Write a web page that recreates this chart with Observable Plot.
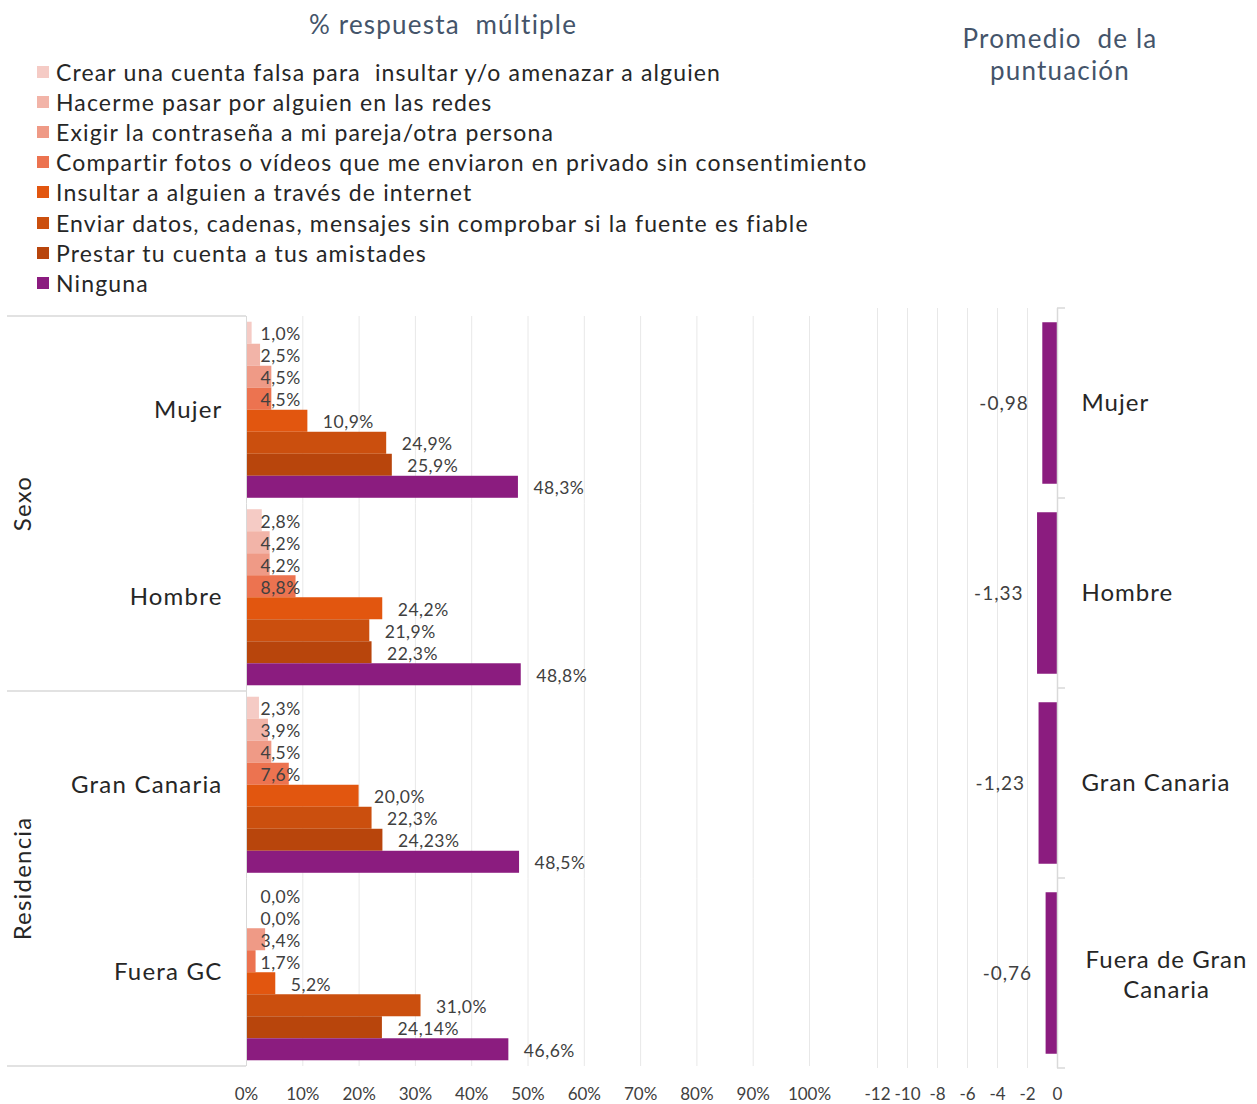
<!DOCTYPE html>
<html>
<head>
<meta charset="utf-8">
<script src="https://cdn.jsdelivr.net/npm/d3@7"></script>
<script src="https://cdn.jsdelivr.net/npm/@observablehq/plot@0.6"></script>
<style>
  body { margin: 0; background: #fff; font-family: Lato, "Open Sans", sans-serif; }
  #wrap { position: relative; width: 1257px; height: 1104px; overflow: hidden; }
  #wrap svg { position: absolute; top: 0; }
  .title { position: absolute; color: #44546A; font-size: 26px; letter-spacing: 1.2px; text-align: center; line-height: 32px; white-space: pre; }
  #legend { position: absolute; left: 37px; top: 57px; }
  .li { display: flex; align-items: center; height: 30.1px; font-size: 23px; letter-spacing: 1.15px; color: #262626; white-space: pre; }
  .sw { width: 12px; height: 12px; margin-right: 7px; flex: none; }
  .leftplot [aria-label^="fy-axis"] text { font-size: 24px; letter-spacing: 1.2px; fill: #262626; }
  .leftplot g[aria-label="text"] text { letter-spacing: 0.5px; }
  .rightplot g[aria-label="text"] text { letter-spacing: 1px; }
</style>
</head>
<body>
<div id="wrap">
  <div class="title" style="left:243px; top:8px; width:400px;">% respuesta  múltiple</div>
  <div class="title" style="left:910px; top:22px; width:300px;">Promedio  de la
puntuación</div>
  <div id="legend"></div>
</div>
<script>
// ---------- DATA ----------
const groups = ["Mujer", "Hombre", "Gran Canaria", "Fuera GC"];
const sectionLabels = ["Sexo", "Residencia"];
const items = [
  "Crear una cuenta falsa para  insultar y/o amenazar a alguien",
  "Hacerme pasar por alguien en las redes",
  "Exigir la contraseña a mi pareja/otra persona",
  "Compartir fotos o vídeos que me enviaron en privado sin consentimiento",
  "Insultar a alguien a través de internet",
  "Enviar datos, cadenas, mensajes sin comprobar si la fuente es fiable",
  "Prestar tu cuenta a tus amistades",
  "Ninguna"
];
const colors = ["#F5CBC5", "#F2B4A8", "#EF9A86", "#EC7350", "#E2560F", "#CB4F0E", "#B8450C", "#8B1C7F"];
const mujer  = [1.0, 2.5, 4.5, 4.5, 10.9, 24.9, 25.9, 48.3];
const hombre = [2.8, 4.2, 4.2, 8.8, 24.2, 21.9, 22.3, 48.8];
const granCanaria = [2.3, 3.9, 4.5, 7.6, 20.0, 22.3, 24.23, 48.5];
const fueraGC = [0.0, 0.0, 3.4, 1.7, 5.2, 31.0, 24.14, 46.6];
const pctTicks = [0, 10, 20, 30, 40, 50, 60, 70, 80, 90, 100];

const scoreGroups = ["Mujer", "Hombre", "Gran Canaria", "Fuera de Gran Canaria"];
const scores = [-0.98, -1.33, -1.23, -0.76];
const scoreTicks = [-12, -10, -8, -6, -4, -2, 0];

// ---------- helpers ----------
const seriesByGroup = [mujer, hombre, granCanaria, fueraGC];
const rows = [];
groups.forEach((g, gi) => seriesByGroup[gi].forEach((v, i) => rows.push({group: g, item: items[i], i, v})));
const fmtPct = v => {
  const oneDec = Math.abs(v * 10 - Math.round(v * 10)) < 1e-6;
  return (oneDec ? v.toFixed(1) : v.toFixed(2)).replace(".", ",") + "%";
};
const scoreRows = scoreGroups.map((g, i) => ({g, s: scores[i]}));

// ---------- legend ----------
const legend = document.getElementById("legend");
items.forEach((it, i) => {
  const d = document.createElement("div");
  d.className = "li";
  d.innerHTML = `<span class="sw" style="background:${colors[i]}"></span><span></span>`;
  d.lastChild.textContent = it;
  legend.appendChild(d);
});

const font = "Lato, 'Open Sans', sans-serif";

// ---------- left chart ----------
const left = Plot.plot({
  width: 860, height: 1104,
  marginTop: 316, marginBottom: 38, marginLeft: 246, marginRight: 51,
  style: {background: "transparent", fontFamily: font, fontSize: "17px", color: "#404040", overflow: "visible"},
  x: {domain: [0, 100], ticks: pctTicks, tickFormat: d => d + "%", tickSize: 0, tickPadding: 21, label: null},
  y: {domain: items, axis: null, paddingInner: 0, paddingOuter: 0.26, round: false},
  fy: {domain: groups, padding: 0, axis: "left", label: null, tickSize: 0, tickPadding: 24, round: false},
  color: {domain: items, range: colors},
  marks: [
    Plot.ruleX(pctTicks.slice(1), {stroke: "#E8E8E8"}),
    Plot.barX(rows, {x: "v", y: "item", fy: "group", fill: "item"}),
    Plot.ruleX([0], {stroke: "#D9D9D9"}),
    Plot.text(rows.filter(d => d.i < 4), {y: "item", fy: "group", frameAnchor: "left", dx: 14, dy: 1.5, textAnchor: "start", text: d => fmtPct(d.v), fontSize: 17.5, fill: "#404040"}),
    Plot.text(rows.filter(d => d.i >= 4), {x: "v", y: "item", fy: "group", dx: 15, dy: 1.5, textAnchor: "start", text: d => fmtPct(d.v), fontSize: 17.5, fill: "#404040"})
  ]
});
left.classList.add("leftplot");
left.style.left = "0px";
document.getElementById("wrap").appendChild(left);

// table-like outline and section labels, positioned from the fy scale
(function () {
  const fy = left.scale("fy");
  const svg = d3.select(left);
  const top = fy.apply(groups[0]);
  const mid = fy.apply(groups[2]);
  const bot = fy.apply(groups[3]) + fy.bandwidth;
  [top, mid, bot].forEach(y => {
    svg.append("line").attr("x1", 7).attr("x2", 246).attr("y1", y).attr("y2", y)
      .attr("stroke", "#D9D9D9").attr("stroke-width", 1.5);
  });
  const secY = [fy.apply(groups[1]), fy.apply(groups[3])];
  secY.forEach((y, i) => {
    svg.append("text").attr("transform", `translate(25,${y}) rotate(-90)`)
      .attr("text-anchor", "middle").attr("dominant-baseline", "middle")
      .attr("font-family", font).attr("font-size", 24).attr("letter-spacing", "1.2px").attr("fill", "#262626")
      .text(sectionLabels[i]);
  });
})();

// ---------- right chart ----------
const right = Plot.plot({
  width: 397, height: 1104,
  marginTop: 308, marginBottom: 36, marginLeft: 17, marginRight: 200,
  style: {background: "transparent", fontFamily: font, fontSize: "17px", color: "#404040", overflow: "visible"},
  x: {domain: [-12, 0], ticks: scoreTicks, tickFormat: d => String(d), tickSize: 0, tickPadding: 19, label: null},
  y: {domain: scoreGroups, axis: null, paddingInner: 0.15, paddingOuter: 0.075, round: false},
  marks: [
    Plot.ruleX(scoreTicks.slice(0, -1), {stroke: "#E8E8E8"}),
    Plot.barX(scoreRows, {x: "s", y: "g", fill: "#8B1C7F"}),
    Plot.ruleX([0], {stroke: "#D9D9D9", strokeWidth: 1.5}),
    Plot.text(scoreRows, {x: "s", y: "g", dx: -14, textAnchor: "end", text: d => d.s.toFixed(2).replace(".", ","), fontSize: 19, fill: "#404040"}),
    Plot.text(scoreRows.slice(0, 3), {y: "g", frameAnchor: "right", dx: 24, textAnchor: "start", text: "g", fontSize: 24, fill: "#262626"}),
    Plot.text(scoreRows.slice(3), {y: "g", frameAnchor: "right", dx: 109, textAnchor: "middle", text: "g", lineWidth: 8, lineHeight: 1.25, fontSize: 24, fill: "#262626"})
  ]
});
right.classList.add("rightplot");
right.style.left = "860px";
document.getElementById("wrap").appendChild(right);

(function () {
  const ys = right.scale("y");
  const xs = right.scale("x");
  const x0 = xs.apply(0);
  const svg = d3.select(right);
  const r0 = ys.range[0];
  for (let i = 0; i <= scoreGroups.length; i++) {
    const y = r0 + i * ys.step;
    svg.append("line").attr("x1", x0).attr("x2", x0 + 8).attr("y1", y).attr("y2", y)
      .attr("stroke", "#D9D9D9").attr("stroke-width", 1.5);
  }
})();
</script>
</body>
</html>
